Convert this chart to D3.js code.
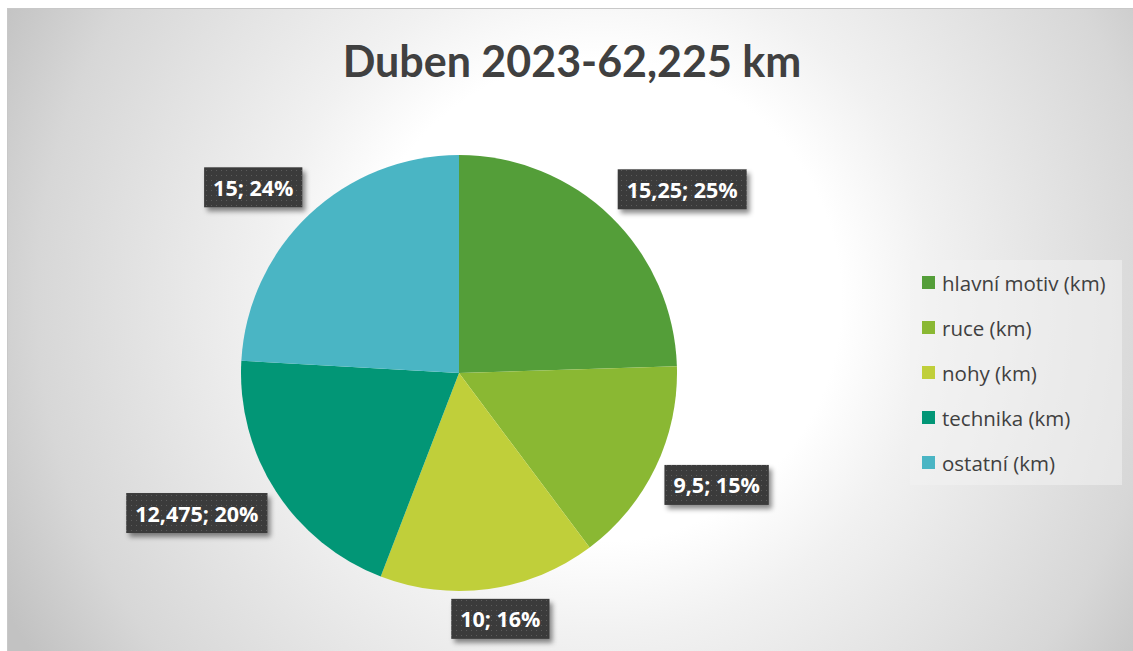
<!DOCTYPE html>
<html>
<head>
<meta charset="utf-8">
<script src="https://cdn.jsdelivr.net/npm/d3@7"></script>
<style>
  body { margin: 0; background: #fff; }
  svg { display: block; }
</style>
</head>
<body>
<div id="chart"></div>
<script>
// data
const title = "Duben 2023-62,225 km";
const categories = ["hlavní motiv (km)", "ruce (km)", "nohy (km)", "technika (km)", "ostatní (km)"];
const values = [15.25, 9.5, 10, 12.475, 15];
const labels = ["15,25; 25%", "9,5; 15%", "10; 16%", "12,475; 20%", "15; 24%"];
const colors = ["#549e39", "#8ab833", "#c0cf3a", "#029676", "#4ab5c4"];

const width = 1133, height = 651;
const cx = 459, cy = 373, radius = 218;

const svg = d3.select("#chart").append("svg")
  .attr("width", width).attr("height", height);

const defs = svg.append("defs");

// background gradient, white centre fading to grey corners
const grad = defs.append("radialGradient")
  .attr("id", "bg")
  .attr("gradientUnits", "userSpaceOnUse")
  .attr("cx", 600).attr("cy", 300).attr("r", 670);
[[0, "#ffffff"], [0.36, "#ffffff"], [0.5, "#f1f1f1"], [0.84, "#d7d7d7"], [1, "#c2c2c2"]]
  .forEach(s => grad.append("stop").attr("offset", s[0]).attr("stop-color", s[1]));

// dotted fill for the data labels
const pat = defs.append("pattern")
  .attr("id", "dots")
  .attr("patternUnits", "userSpaceOnUse")
  .attr("width", 5).attr("height", 5);
pat.append("rect").attr("width", 5).attr("height", 5).attr("fill", "#3b3b3b");
pat.append("rect").attr("x", 2).attr("y", 2).attr("width", 1).attr("height", 1).attr("fill", "#5c5c5c");

const shadow = defs.append("filter").attr("id", "shadow")
  .attr("x", "-20%").attr("y", "-30%").attr("width", "150%").attr("height", "180%");
shadow.append("feDropShadow")
  .attr("dx", 3).attr("dy", 4).attr("stdDeviation", 2.5)
  .attr("flood-color", "#000").attr("flood-opacity", 0.45);

// chart area
svg.append("rect")
  .attr("x", 7.5).attr("y", 8.5)
  .attr("width", width).attr("height", height)
  .attr("fill", "url(#bg)")
  .attr("stroke", "#c8c8c8").attr("stroke-width", 1);

// title
svg.append("text")
  .attr("x", 572).attr("y", 77)
  .attr("text-anchor", "middle")
  .attr("font-family", "Lato, 'Open Sans', sans-serif")
  .attr("font-weight", "bold")
  .attr("font-size", 43)
  .attr("fill", "#404040")
  .text(title);

// pie
const pie = d3.pie().sort(null).value(d => d);
const arcs = pie(values);
const arc = d3.arc().innerRadius(0).outerRadius(radius);

const g = svg.append("g").attr("transform", "translate(" + cx + "," + cy + ")");

g.selectAll(".slice")
  .data(arcs)
  .enter().append("path")
  .attr("class", "slice")
  .attr("d", arc)
  .attr("fill", (d, i) => colors[i]);

// data labels, outside end
const labelR = radius + 10;
const lab = g.selectAll(".lab")
  .data(arcs)
  .enter().append("g")
  .attr("class", "lab");

lab.each(function(d, i) {
  const el = d3.select(this);
  const t = el.append("text")
    .attr("font-family", "'Open Sans', sans-serif")
    .attr("font-weight", "bold")
    .attr("font-size", 21.5)
    .attr("fill", "#fff")
    .attr("text-anchor", "middle")
    .attr("dominant-baseline", "central")
    .text(labels[i]);
  const tw = t.node().getComputedTextLength();
  const w = tw + 18, h = 40;
  const a = (d.startAngle + d.endAngle) / 2;
  const s = Math.sin(a), c = Math.cos(a);
  const px = labelR * s, py = -labelR * c;
  const kx = Math.sign(s) * Math.min(1, Math.abs(s) * 1.5);
  const ky = Math.sign(c) * Math.min(1, Math.abs(c) * 1.5);
  const mx = px + kx * w / 2, my = py - ky * h / 2;
  el.insert("rect", "text")
    .attr("x", mx - w / 2).attr("y", my - h / 2)
    .attr("width", w).attr("height", h)
    .attr("fill", "url(#dots)")
    .attr("filter", "url(#shadow)");
  t.attr("x", mx).attr("y", my);
});

// legend
const legend = svg.append("g").attr("transform", "translate(910,260)");
legend.append("rect")
  .attr("width", 212).attr("height", 225)
  .attr("fill", "#f2f2f2").attr("fill-opacity", 0.55);

const ly = d3.scaleBand().domain(d3.range(categories.length)).range([0, 225]);

const item = legend.selectAll(".item")
  .data(categories)
  .enter().append("g")
  .attr("class", "item")
  .attr("transform", (d, i) => "translate(0," + (ly(i) + ly.bandwidth() / 2) + ")");

item.append("rect")
  .attr("x", 12).attr("y", -6.5)
  .attr("width", 13).attr("height", 13)
  .attr("fill", (d, i) => colors[i]);

item.append("text")
  .attr("x", 32).attr("y", 0)
  .attr("dominant-baseline", "central")
  .attr("font-family", "'Open Sans', sans-serif")
  .attr("font-size", 20.5)
  .attr("fill", "#404040")
  .text(d => d);
</script>
</body>
</html>
